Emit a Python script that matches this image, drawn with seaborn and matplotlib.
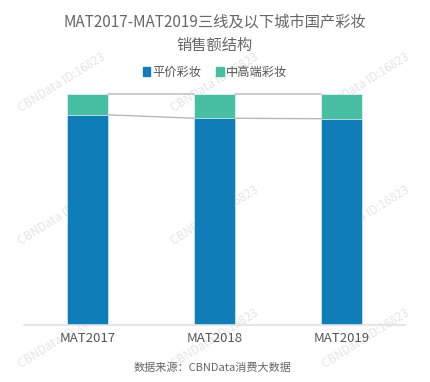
import matplotlib
matplotlib.use("Agg")
import matplotlib.pyplot as plt
import seaborn as sns
import numpy as np
from matplotlib.patches import Patch

# data (share of sales, %)
periods = ["MAT2017", "MAT2018", "MAT2019"]
low_price = [91.0, 89.5, 89.3]      # 平价彩妆
mid_high = [9.0, 10.5, 10.7]        # 中高端彩妆
series_names = ["平价彩妆", "中高端彩妆"]

blue = "#0F7DB8"
teal = "#48BFA3"

sns.set_theme(style="white")
plt.rcParams["font.family"] = ["Noto Sans CJK SC", "DejaVu Sans"]

fig = plt.figure(figsize=(4.3, 3.82), dpi=100)
ax = fig.add_axes([24 / 430, 57 / 382, 381 / 430, 231 / 382])
ax.set_facecolor("none")

# faint watermarks
for wy in [82, 215, 338]:
    for wx in [62, 215, 366]:
        fig.text(wx / 430, 1 - wy / 382, "CBNData ID:16823", rotation=32,
                 ha="center", va="center", fontsize=8.5, color="#e4e4e4",
                 zorder=-1)

totals = [a + b for a, b in zip(low_price, mid_high)]
bw = 0.315
sns.barplot(x=periods, y=totals, color=teal, saturation=1, width=bw, ax=ax,
            edgecolor="#dff2ec", linewidth=0.6)
sns.barplot(x=periods, y=low_price, color=blue, saturation=1, width=bw, ax=ax,
            edgecolor="#cfe3ef", linewidth=0.6)

# connector lines between bars
for i in range(len(periods) - 1):
    x0, x1 = i + bw / 2, i + 1 - bw / 2
    ax.plot([x0, x1], [totals[i], totals[i + 1]], color="#cccccc", lw=1.4,
            zorder=1, clip_on=False)
    ax.plot([x0, x1], [low_price[i], low_price[i + 1]], color="#b8b8b8", lw=1.0,
            zorder=1)

ax.set_xlim(-0.5, 2.5)
ax.set_ylim(0, 100)
ax.set_yticks([])
ax.set_xlabel("")
ax.set_ylabel("")
for s in ["top", "left", "right"]:
    ax.spines[s].set_visible(False)
ax.spines["bottom"].set_color("#e2e2e2")
ax.spines["bottom"].set_linewidth(1.2)
ax.tick_params(axis="x", length=0, labelsize=9.5, colors="#555555", pad=5)

# legend
handles = [Patch(color=blue, label=series_names[0]), Patch(color=teal, label=series_names[1])]
fig.legend(handles=handles, loc="center", bbox_to_anchor=(0.5, 1 - 72 / 382), ncol=2,
           frameon=False, fontsize=8.8, handlelength=0.6, handleheight=0.7,
           handletextpad=0.2, columnspacing=1.2, labelcolor="#555555")

fig.text(0.5, 1 - 22 / 382, "MAT2017-MAT2019三线及以下城市国产彩妆", ha="center",
         va="center", fontsize=11, color="#666666")
fig.text(0.5, 1 - 45 / 382, "销售额结构", ha="center", va="center",
         fontsize=11, color="#666666")

fig.text(213 / 430, 1 - 368 / 382, "数据来源：CBNData消费大数据", ha="center",
         va="center", fontsize=8, color="#666666")

fig.savefig("out.png", dpi=100)
